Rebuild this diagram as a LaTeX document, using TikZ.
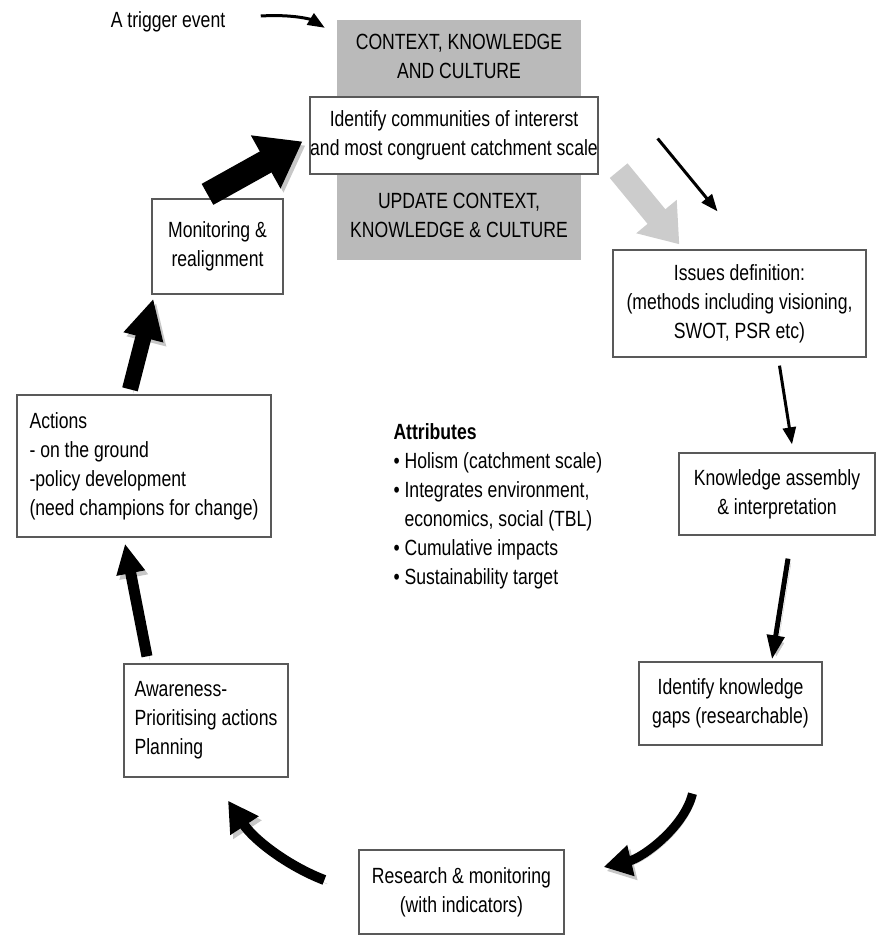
\documentclass[tikz,border=0pt]{standalone}
\usepackage{fontspec}
\setmainfont{Liberation Sans}[FakeStretch=0.8]
\usetikzlibrary{arrows.meta}

\begin{document}
\begin{tikzpicture}[x=1pt,y=-1pt,font=\fontsize{22}{29}\selectfont,
  box/.style={draw=black!65,line width=1.3pt,fill=white,align=center,inner sep=0pt},
  leftbox/.style={box,align=left},
  thinarr/.style={line width=3pt,-{Triangle[length=17pt,width=13pt]}},
  shade/.style={preaction={draw=black!22,transform canvas={shift={(3pt,-4pt)}}}}]
  \useasboundingbox (0,0) rectangle (878,935);

  % grey background with context
  \node[fill=black!27,minimum width=244pt,minimum height=240pt,inner sep=0pt] (bg) at (459,140) {};
  \node[align=center] (ctx) at (459,56) {CONTEXT, KNOWLEDGE\\AND CULTURE};
  \node[align=center] (upd) at (459,215) {UPDATE CONTEXT,\\KNOWLEDGE \& CULTURE};

  % the cycle
  \node[box,minimum width=288pt,minimum height=77pt] (comm) at (454,135.5) {Identify communities of intererst\\and most congruent catchment scale};
  \node[box,minimum width=253pt,minimum height=107pt] (issues) at (739.5,303.5) {Issues definition:\\(methods including visioning,\\SWOT, PSR etc)};
  \node[box,minimum width=196pt,minimum height=82pt] (know) at (777,494) {Knowledge assembly\\\& interpretation};
  \node[box,minimum width=183pt,minimum height=83pt] (gaps) at (730.5,703.5) {Identify knowledge\\gaps (researchable)};
  \node[box,minimum width=205pt,minimum height=84pt] (research) at (461.5,892) {Research \& monitoring\\(with indicators)};
  \node[leftbox,minimum width=164pt,minimum height=113pt] (aware) at (206,720.5) {Awareness-\\Prioritising actions\\Planning};
  \node[leftbox,minimum width=254pt,minimum height=142pt] (actions) at (144,466) {Actions\\- on the ground\\-policy development\\(need champions for change)};
  \node[box,minimum width=131pt,minimum height=95pt] (monit) at (217.5,246.5) {Monitoring \&\\realignment};

  \node (trigger) at (168,22) {A trigger event};
  \node[align=left,anchor=north west] (attr) at (390,420) {\textbf{Attributes}\\
    • Holism (catchment scale)\\
    • Integrates environment,\\
    \phantom{• }economics, social (TBL)\\
    • Cumulative impacts\\
    • Sustainability target};

  %%%% arrows
  \draw[thinarr] ([shift={(32,-6)}]trigger.east) .. controls (295,14) and (312,20) .. ([shift={(-12,8)}]bg.north west);
  \draw[thinarr] ([shift={(59,3)}]comm.east) -- ([shift={(-22,-38)}]issues.north);
  \draw[black!20,line width=23pt,-{Triangle[length=36pt,width=50pt]}] ([shift={(20,-4)}]comm.south east) -- ([shift={(67,-5)}]issues.north west);
  \draw[thinarr] ([shift={(40,8)}]issues.south) -- ([shift={(15,-8)}]know.north);
  \draw[shade,line width=5pt,-{Triangle[length=24pt,width=17pt]}] ([shift={(11,23)}]know.south) -- ([shift={(41.5,-2)}]gaps.north);
  \draw[shade,line width=9pt,-{Triangle[length=28pt,width=30pt]}] ([shift={(-38,48)}]gaps.south) .. controls (684,828) and (642,858) .. ([shift={(39,-25)}]research.east);
  \draw[shade,line width=10pt,-{Triangle[length=30pt,width=32pt]}] ([shift={(-34,-12)}]research.west) .. controls (288,866) and (254,840) .. ([shift={(22,23)}]aware.south);
  \draw[shade,line width=11pt,-{Triangle[length=30pt,width=27pt]}] ([shift={(-59,-7)}]aware.north) -- ([shift={(-19,6)}]actions.south);
  \draw[shade,line width=16pt,-{Triangle[length=40pt,width=38pt]}] ([shift={(-14,-5)}]actions.north) -- ([shift={(2,4)}]monit.south west);
  \draw[shade,line width=24pt,-{Triangle[length=42pt,width=58pt]}] ([shift={(-10,-4)}]monit.north) -- ([shift={(-7,6)}]comm.west);
\end{tikzpicture}
\end{document}
